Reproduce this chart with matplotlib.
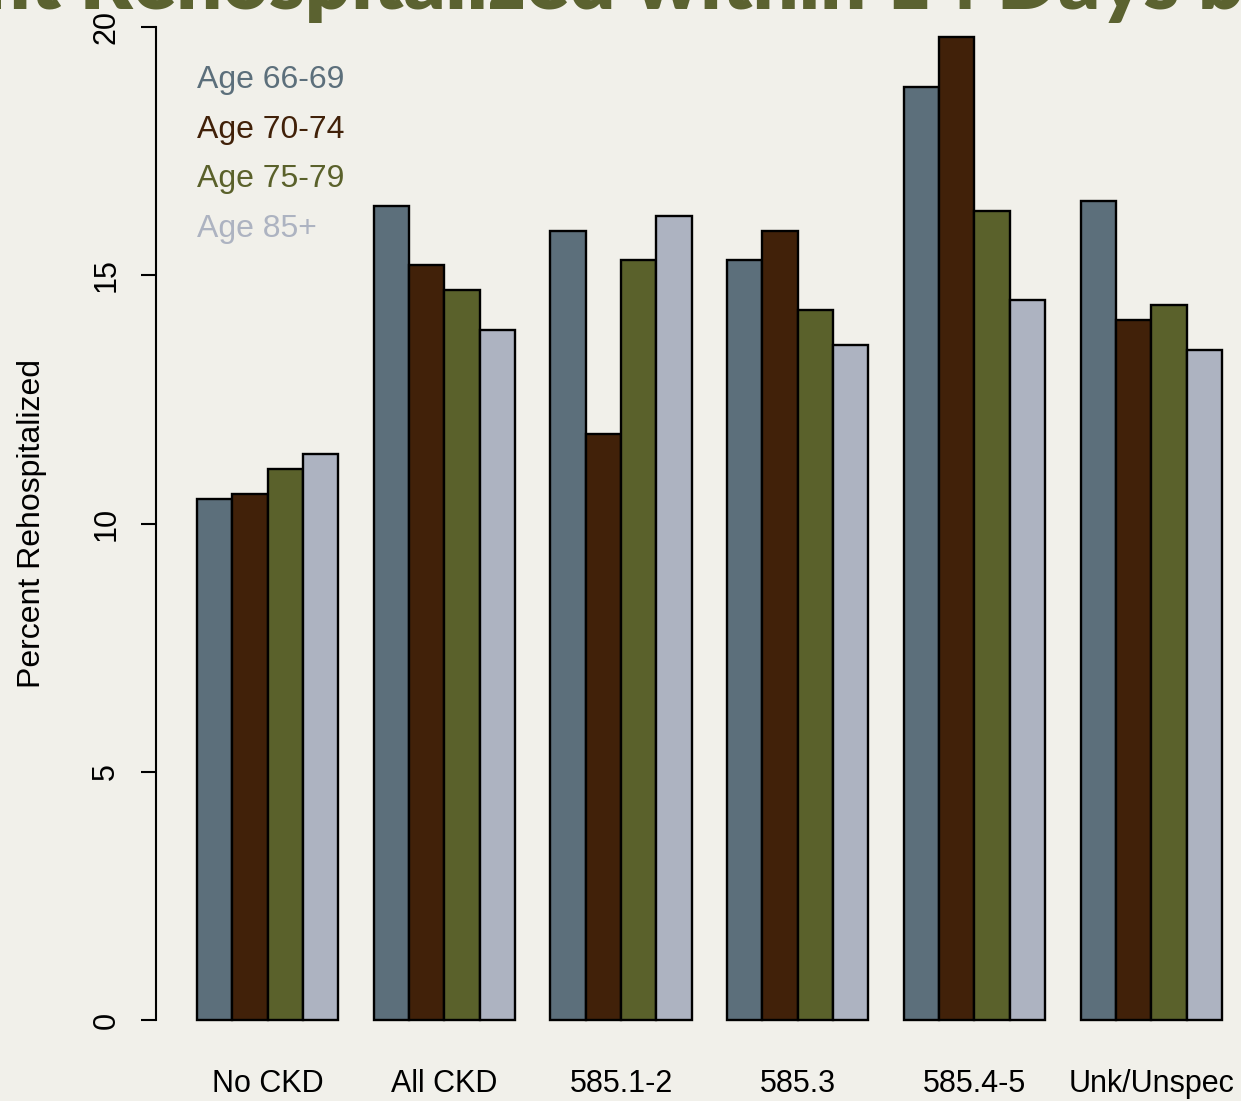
import numpy as np
import matplotlib
matplotlib.use("Agg")
import matplotlib.pyplot as plt

# data
groups = ["No CKD", "All CKD", "585.1-2", "585.3", "585.4-5", "Unk/Unspec"]
age_labels = ["Age 66-69", "Age 70-74", "Age 75-79", "Age 85+"]
age_66_69 = [10.5, 16.4, 15.9, 15.3, 18.8, 16.5]
age_70_74 = [10.6, 15.2, 11.8, 15.9, 19.8, 14.1]
age_75_79 = [11.1, 14.7, 15.3, 14.3, 16.3, 14.4]
age_85_up = [11.4, 13.9, 16.2, 13.6, 14.5, 13.5]
yticks = [0, 5, 10, 15, 20]

colors = ["#5c6f7b", "#412109", "#5a612b", "#adb3c1"]
bg = "#f1f0ea"
title_col = "#5b6230"
font = "Liberation Sans"

W, H = 1241, 1101
fig = plt.figure(figsize=(W / 100, H / 100), dpi=100, facecolor=bg)

# R style barplot: bar width 1, space 1 between groups, usr extended by 4%
x_lo, x_hi = 1 - 0.04 * 29, 30 + 0.04 * 29
y_lo, y_hi = -0.8, 20.8
px_unit = 35.34
left_px = 197 - (1 - x_lo) * px_unit
width_px = (x_hi - x_lo) * px_unit
bot_px = 1020 + 0.8 * 49.65
top_px = 27 - 0.8 * 49.65
ax = fig.add_axes([left_px / W, (H - bot_px) / H, width_px / W, (bot_px - top_px) / H])
ax.set_facecolor("none")
ax.set_xlim(x_lo, x_hi)
ax.set_ylim(y_lo, y_hi)

series = [age_66_69, age_70_74, age_75_79, age_85_up]
base = 1 + 5 * np.arange(len(groups))
for k, vals in enumerate(series):
    ax.bar(base + k, vals, width=1, align="edge", color=colors[k],
           edgecolor="black", linewidth=1.7)

for s in ["top", "right", "bottom"]:
    ax.spines[s].set_visible(False)
ax.spines["left"].set_bounds(0, 20)
ax.spines["left"].set_linewidth(1.5)
ax.set_yticks(yticks)
ax.set_yticklabels([str(v) for v in yticks], rotation=90, va="center",
                   fontsize=22, family=font)
ax.tick_params(axis="y", length=11, width=1.5, pad=14)

ax.set_xticks(base + 2)
ax.set_xticklabels(groups, fontsize=22, family=font)
ax.tick_params(axis="x", length=0, pad=7)

ax.set_ylabel("Percent Rehospitalized", fontsize=23, family=font, labelpad=32)

# legend as coloured text, no box
for k, lab in enumerate(age_labels):
    ax.text(1.0, 18.93 - k, lab, color=colors[k], fontsize=23, family=font,
            va="center", ha="left")

# clipped slide title at the very top
title = "Percent Rehospitalized within 14 Days by"
tkw = dict(fontweight="heavy", family="Lato", color=title_col)
fig.canvas.draw()
r = fig.canvas.get_renderer()


def text_w(s, size):
    t = fig.text(0, 0, s, fontsize=size, **tkw)
    w = t.get_window_extent(r).width
    t.remove()
    return w


size = 40 * 1118 / text_w("Rehospitalized within 14 Days ", 40)
x0 = 80 - text_w("Percent ", size)
fig.text(x0 / W, (H - 9) / H, title, fontsize=size, va="baseline", ha="left", **tkw)

fig.savefig("out.png", dpi=100, facecolor=bg)
